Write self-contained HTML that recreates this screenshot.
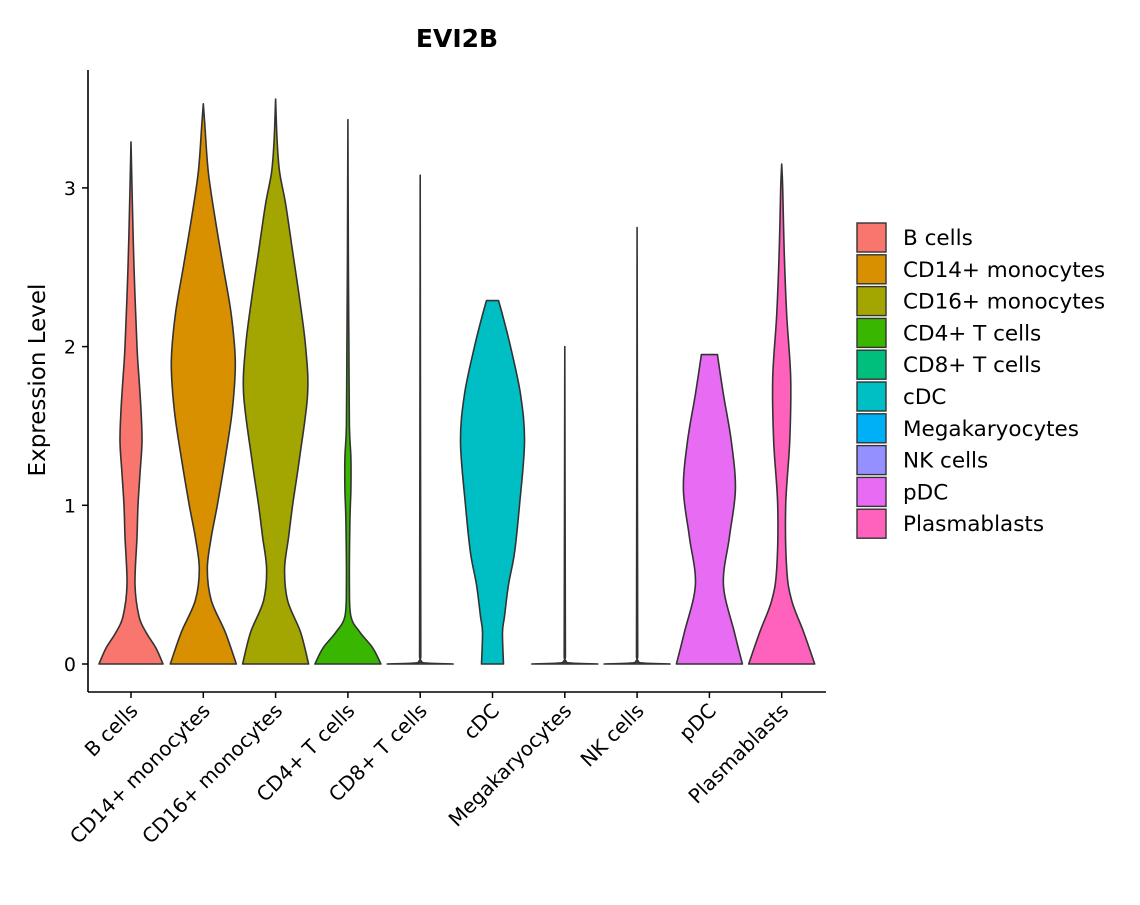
<!DOCTYPE html>
<html><head><meta charset="utf-8">
<style>
body{margin:0;background:#fff;}
svg text{font-family:"DejaVu Sans","Liberation Sans",sans-serif;fill:#000;}
</style></head>
<body>
<svg id="chart" width="1140" height="900" viewBox="0 0 1140 900" xmlns="http://www.w3.org/2000/svg">
<text x="457" y="47" font-size="25" font-weight="bold" text-anchor="middle">EVI2B</text>
<text transform="translate(45,380) rotate(-90)" font-size="23" text-anchor="middle">Expression Level</text>
<g id="plot"></g>
<g id="legend"></g>
</svg>
<script>
const categories=["B cells","CD14+ monocytes","CD16+ monocytes","CD4+ T cells","CD8+ T cells","cDC","Megakaryocytes","NK cells","pDC","Plasmablasts"];
const colors=["#F8766D","#D89000","#A3A500","#39B600","#00BF7D","#00BFC4","#00B0F6","#9590FF","#E76BF3","#FF62BC"];
const yTicks=[0,1,2,3];
// density profiles: expression levels and relative half-widths (max 33)
const levB=[0,0.1,0.2,0.3,0.5,0.8,1.0,1.2,1.4,1.6,1.8,2.0,2.5,3.0,3.29];
const denB=[32,25,15,8,4,6,7,9,11,10,8,6,3,1,0];
const levCD14=[0,0.2,0.4,0.6,0.8,1.0,1.3,1.6,1.9,2.2,2.5,2.8,3.1,3.4,3.53];
const denCD14=[33,22,8,4,8,14,22,29,32,28,20,12,5,1.5,0];
const levCD16=[0,0.2,0.4,0.6,0.8,1.0,1.3,1.7,2.0,2.3,2.6,2.9,3.1,3.3,3.56];
const denCD16=[33,25,12,9,13,17,24,32,30,24,17,10,4,1.5,0];
const levCD4=[0,0.1,0.2,0.3,0.5,0.9,1.1,1.3,1.5,2.0,2.5,3.43];
const denCD4=[33,25,12,3,1.5,2,3,3,1.5,1,0.5,0];
const levCD8=[0,0.01,0.05,3.08];
const denCD8=[33,1,0.6,0];
const levcDC=[0,0.2,0.3,0.5,0.7,1.0,1.4,1.7,2.0,2.2,2.29];
const dencDC=[11,10,12,16,22,27,32,28,18,10,6];
const levMega=[0,0.01,0.05,2.0];
const denMega=[33,1,0.6,0];
const levNK=[0,0.01,0.05,2.75];
const denNK=[33,1,0.6,0];
const levpDC=[0,0.2,0.5,0.8,1.1,1.4,1.7,1.95];
const denpDC=[33,25,14,20,26,22,14,8];
const levPlasma=[0,0.2,0.4,0.6,1.0,1.4,1.8,2.2,2.6,3.0,3.15];
const denPlasma=[33,22,10,5,4,8,9,5,2.5,1,0];
const levels=[levB,levCD14,levCD16,levCD4,levCD8,levcDC,levMega,levNK,levpDC,levPlasma];
const dens=[denB,denCD14,denCD16,denCD4,denCD8,dencDC,denMega,denNK,denpDC,denPlasma];

const NS="http://www.w3.org/2000/svg";
const x0=88,x1=826,yTop=70,yBase=692;
const yScale=v=>664-v*158.7;
const xScale=i=>131+i*72.3;
const wScale=d=>d;
const plot=document.getElementById('plot');
function mk(tag,attrs,parent){const e=document.createElementNS(NS,tag);for(const k in attrs)e.setAttribute(k,attrs[k]);parent.appendChild(e);return e;}
function clampY(y,a,b){return Math.min(Math.max(y,Math.min(a,b)),Math.max(a,b));}
function smooth(pts){let d="M"+pts[0][0]+","+pts[0][1];for(let i=0;i<pts.length-1;i++){const p0=pts[Math.max(i-1,0)],p1=pts[i],p2=pts[i+1],p3=pts[Math.min(i+2,pts.length-1)];
let c1=[p1[0]+(p2[0]-p0[0])/6,p1[1]+(p2[1]-p0[1])/6],c2=[p2[0]-(p3[0]-p1[0])/6,p2[1]-(p3[1]-p1[1])/6];
c1[1]=clampY(c1[1],p1[1],p2[1]);c2[1]=clampY(c2[1],p1[1],p2[1]);
d+=" C"+c1[0]+","+c1[1]+" "+c2[0]+","+c2[1]+" "+p2[0]+","+p2[1];}return d;}
categories.forEach((c,i)=>{
  const cx=xScale(i),L=levels[i],D=dens[i];
  const right=L.map((v,j)=>[cx+wScale(D[j]),yScale(v)]);
  const left=L.map((v,j)=>[cx-wScale(D[j]),yScale(v)]).reverse();
  let d=smooth(right);
  const ls=smooth(left);
  d+=" L"+ls.slice(1)+" Z";
  const p=mk('path',{d:d,fill:colors[i],stroke:'#333','stroke-width':1.6,'stroke-linejoin':'round'},plot);
  
  
  mk('line',{x1:cx,x2:cx,y1:yBase,y2:yBase+6,stroke:'#000','stroke-width':1.5},plot);
  const t=mk('text',{transform:`translate(${cx+8},${yBase+20}) rotate(-45)`,'font-size':20,'text-anchor':'end'},plot);
  t.textContent=c;
  
  
});
yTicks.forEach(v=>{
  const y=yScale(v);
  mk('line',{x1:x0-6,x2:x0,y1:y,y2:y,stroke:'#000','stroke-width':1.5},plot);
  const t=mk('text',{x:x0-12,y:y+7,'font-size':19,'text-anchor':'end'},plot);
  t.textContent=v;
  
  
});
const ya=mk('line',{x1:x0,x2:x0,y1:yTop,y2:yBase,stroke:'#000','stroke-width':1.6},plot);


const xa=mk('line',{x1:x0,x2:x1,y1:yBase,y2:yBase,stroke:'#000','stroke-width':1.6},plot);


const lg=document.getElementById('legend');
categories.forEach((c,i)=>{
  const y=222+i*31.8;
  const r=mk('rect',{x:857,y:y+1,width:29,height:29,fill:colors[i],stroke:'#333','stroke-width':1.4},lg);
  
  
  const t=mk('text',{x:903,y:y+23,'font-size':21.5},lg);
  t.textContent=c;
  
  
});
</script>
</body></html>
